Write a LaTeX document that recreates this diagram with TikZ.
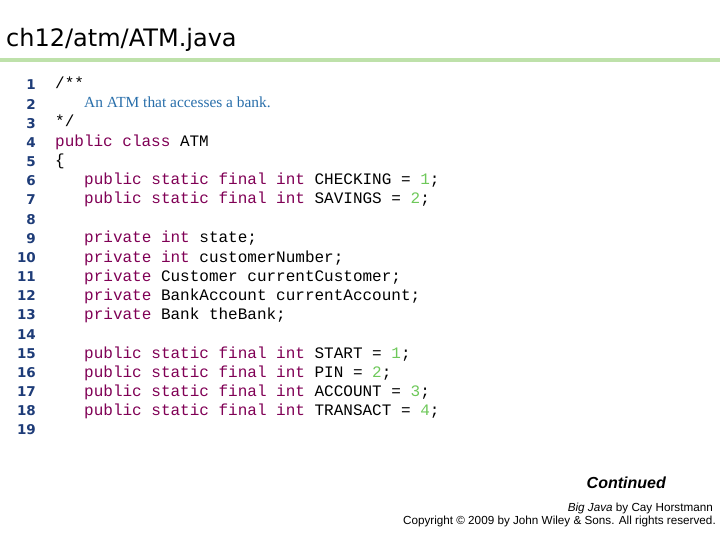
\documentclass[tikz,border=0pt]{standalone}
\usepackage{fontspec}
\setmainfont{Liberation Serif}
\setsansfont{DejaVu Sans}
\setmonofont{Liberation Mono}
\newfontfamily\arialfont{Liberation Sans}
\usetikzlibrary{positioning}
\definecolor{kwcol}{RGB}{128,0,85}
\definecolor{numcol}{RGB}{110,200,90}
\definecolor{lncol}{RGB}{30,60,120}
\definecolor{cmtcol}{RGB}{40,110,170}
\definecolor{barcol}{RGB}{190,225,170}
\newcommand{\kw}[1]{\textcolor{kwcol}{#1}}
\newcommand{\nm}[1]{\textcolor{numcol}{#1}}
\tikzset{
  lineno/.style={anchor=east, inner sep=0pt, font=\sffamily\bfseries\fontsize{13.5}{13.5}\selectfont, text=lncol},
  codeline/.style={anchor=base west, inner sep=0pt, font=\ttfamily\fontsize{16}{16}\selectfont},
}
\begin{document}
\begin{tikzpicture}[x=1pt,y=-1pt]
  \useasboundingbox (0,0) rectangle (720,540);
  % title
  \node[anchor=west, inner sep=0pt, font=\sffamily\fontsize{24}{24}\selectfont] (title) at (6,40) {ch12/atm/ATM.java};
  \fill[barcol] (0,58) rectangle (720,62);
  % line numbers
  \foreach \i in {1,...,19}
    \node[lineno] (n\i) at (36,{85+19.17*(\i-1)}) {\i};
  % code
  \node[codeline] (l1) at (55,89) {/**};
  \node[codeline, font=\rmfamily\fontsize{15.4}{15.4}\selectfont, text=cmtcol] (l2) at (84,108) {An ATM that accesses a bank.};
  \node[codeline] (l3) at (55,127) {*/};
  \node[codeline] (l4) at (55,147) {\kw{public class} ATM};
  \node[codeline] (l5) at (55,166) {\{};
  \node[codeline] (l6) at (84,185) {\kw{public static final int} CHECKING = \nm{1};};
  \node[codeline] (l7) at (84,204) {\kw{public static final int} SAVINGS = \nm{2};};
  \node[codeline] (l9) at (84,243) {\kw{private int} state;};
  \node[codeline] (l10) at (84,262) {\kw{private int} customerNumber;};
  \node[codeline] (l11) at (84,281) {\kw{private} Customer currentCustomer;};
  \node[codeline] (l12) at (84,300) {\kw{private} BankAccount currentAccount;};
  \node[codeline] (l13) at (84,319) {\kw{private} Bank theBank;};
  \node[codeline] (l15) at (84,358) {\kw{public static final int} START = \nm{1};};
  \node[codeline] (l16) at (84,377) {\kw{public static final int} PIN = \nm{2};};
  \node[codeline] (l17) at (84,396) {\kw{public static final int} ACCOUNT = \nm{3};};
  \node[codeline] (l18) at (84,415) {\kw{public static final int} TRANSACT = \nm{4};};
  % footer
  \node[anchor=east, inner sep=0pt, font=\arialfont\bfseries\itshape\fontsize{16}{16}\selectfont] (cont) at (666,483) {Continued};
  \node[anchor=east, inner sep=0pt, font=\arialfont\fontsize{11.7}{11.7}\selectfont] (book) at (713,508) {\textit{Big Java} by Cay Horstmann};
  \node[anchor=east, inner sep=0pt, font=\arialfont\fontsize{11.7}{11.7}\selectfont] (copy) at (716,521) {Copyright © 2009 by John Wiley \& Sons.  All rights reserved.};
\end{tikzpicture}
\end{document}
